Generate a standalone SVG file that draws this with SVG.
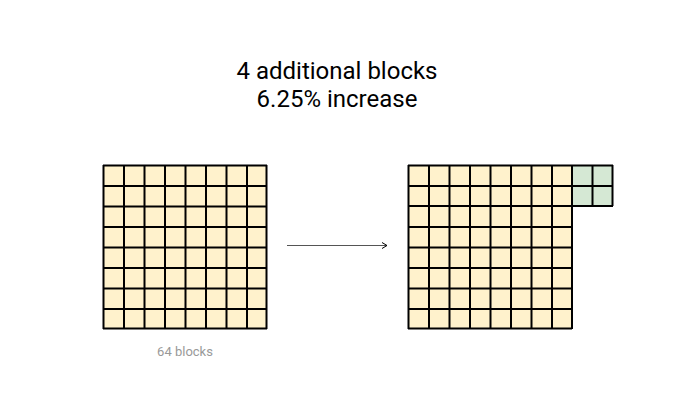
<svg xmlns="http://www.w3.org/2000/svg" width="690" height="400" viewBox="0 0 690 400">
<defs>
<style>
.t{font-family:Roboto,"Liberation Sans",sans-serif;fill:#000;text-anchor:middle}
</style>
<marker id="a" markerWidth="10" markerHeight="10" refX="6" refY="4" orient="auto" markerUnits="userSpaceOnUse">
<path d="M1,1 L6,4 L1,7" fill="none" stroke="#000" stroke-width="1"/>
</marker>
</defs>
<rect width="690" height="400" fill="#fff"/>
<g id="title">
<text class="t" x="337" y="79" font-size="24">4 additional blocks</text>
<text class="t" x="337" y="107" font-size="24">6.25% increase</text>
</g>
<g id="left-grid">
<rect x="103" y="165" width="164" height="164" fill="#fff2cc"/>
<path d="M103.5,165V329M124,165V329M144.5,165V329M165,165V329M185.5,165V329M206,165V329M226.5,165V329M247,165V329M266.5,165V329M103,165.5H267M103,186H267M103,206.5H267M103,227H267M103,247.5H267M103,268H267M103,288.5H267M103,309H267M103,328.5H267" stroke="#000" stroke-width="2" fill="none"/>
</g>
<g id="right-grid">
<rect x="408" y="165" width="164" height="164" fill="#fff2cc"/>
<rect x="572" y="165" width="41" height="41" fill="#d5e8d4"/>
<path d="M408.5,165V329M429,165V329M449.5,165V329M470,165V329M490.5,165V329M511,165V329M531.5,165V329M552,165V329M572,165V329M592.5,165V206M612.5,165V206M408,165.5H613M408,186H613M408,206H613M408,227H572M408,247.5H572M408,268H572M408,288.5H572M408,309H572M408,328.5H572" stroke="#000" stroke-width="2" fill="none"/>
</g>
<g id="connectors">
<line x1="287" y1="245.5" x2="387" y2="245.5" stroke="#555" stroke-width="1" marker-end="url(#a)"/>
</g>
<g id="label">
<text class="t" x="185" y="356" font-size="13" style="fill:#999">64 blocks</text>
</g>
</svg>
